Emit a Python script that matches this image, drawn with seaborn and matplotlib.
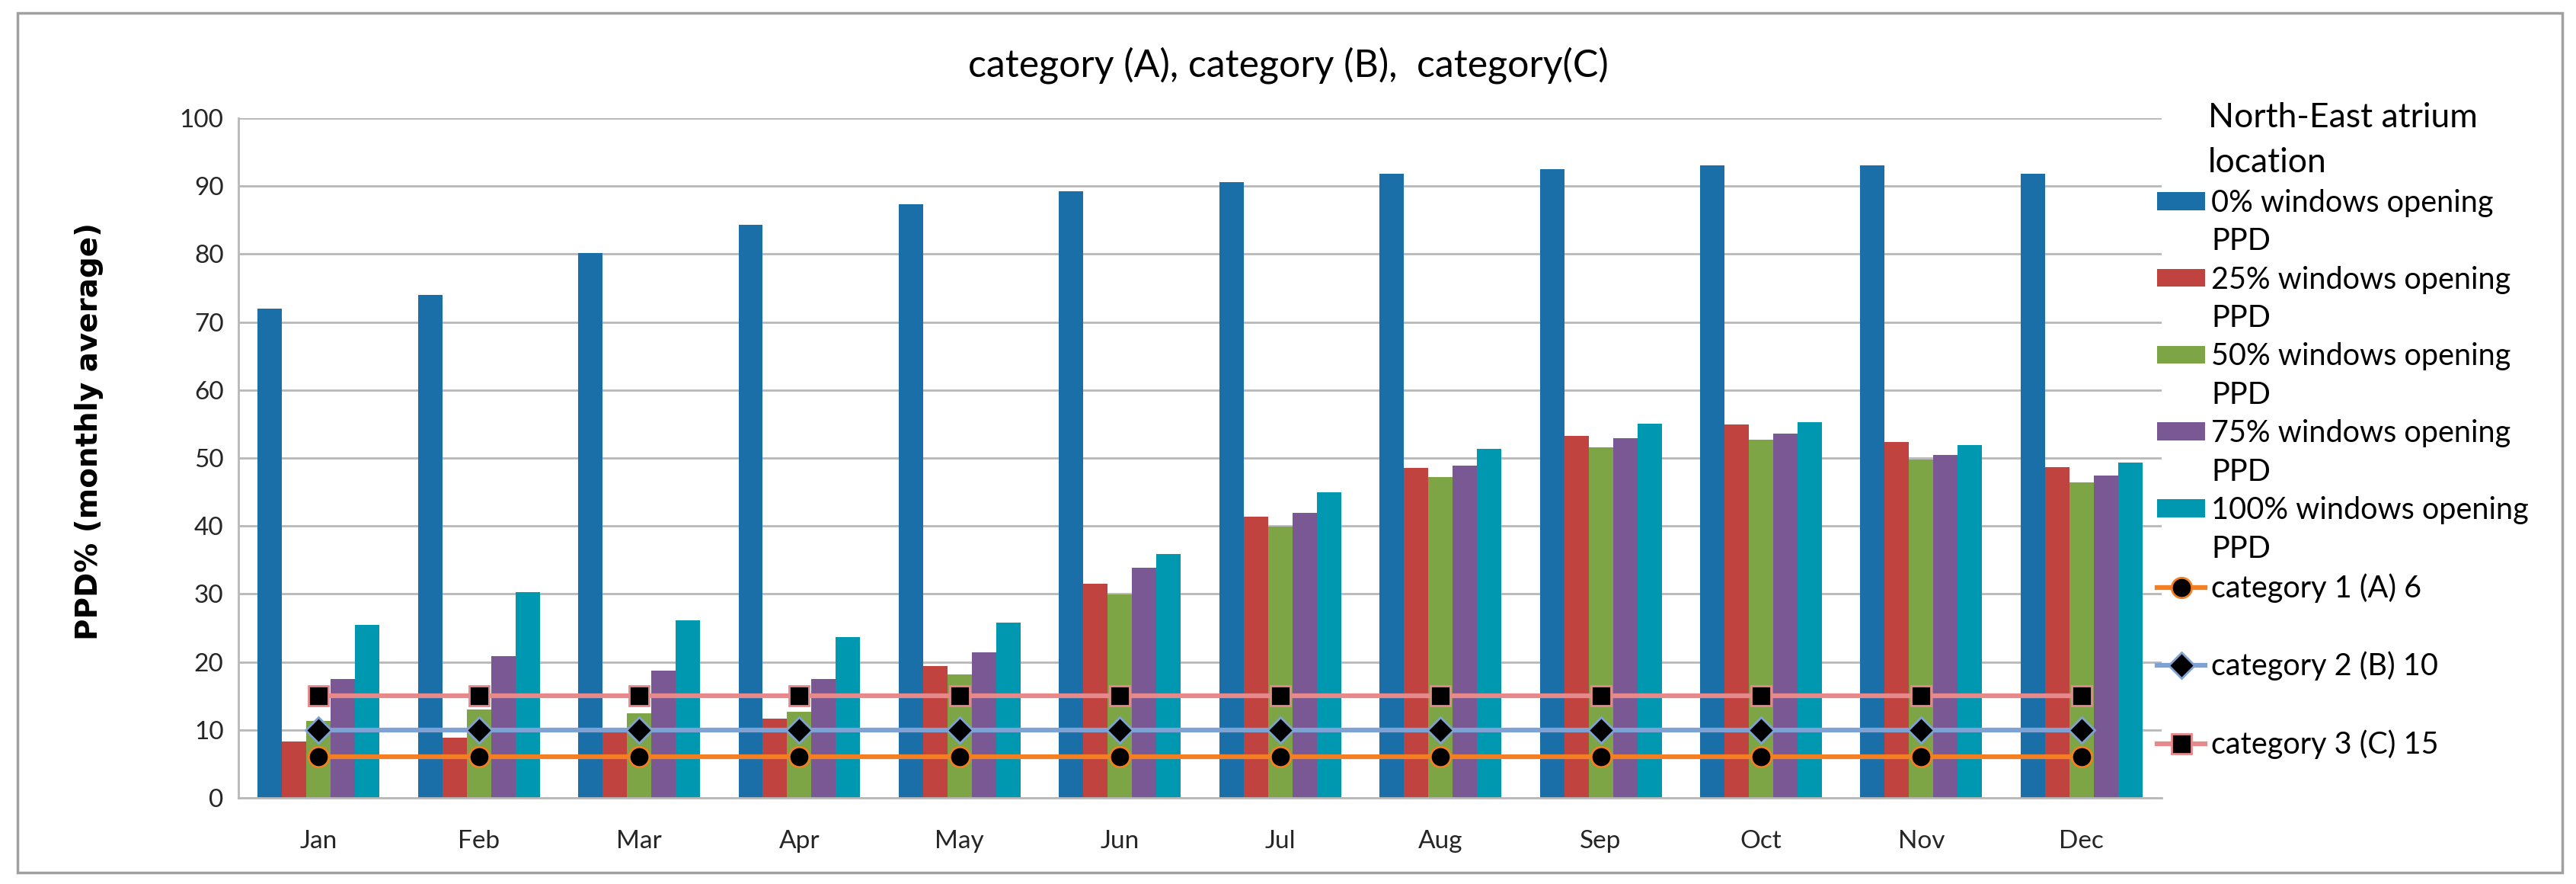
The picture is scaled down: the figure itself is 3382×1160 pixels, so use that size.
import pandas as pd
import seaborn as sns
import matplotlib.pyplot as plt
from matplotlib.patches import Patch, Rectangle
from matplotlib.lines import Line2D

# Chart data
months = ["Jan", "Feb", "Mar", "Apr", "May", "Jun", "Jul", "Aug", "Sep", "Oct", "Nov", "Dec"]
series_names = [
    "0% windows opening PPD",
    "25% windows opening PPD",
    "50% windows opening PPD",
    "75% windows opening PPD",
    "100% windows opening PPD",
]
open_0 = [72.0, 74.0, 80.2, 84.3, 87.3, 89.2, 90.6, 91.8, 92.5, 93.1, 93.1, 91.8]
open_25 = [8.3, 8.9, 9.7, 11.7, 19.4, 31.5, 41.4, 48.5, 53.2, 54.9, 52.3, 48.7]
open_50 = [11.3, 13.0, 12.4, 12.7, 18.2, 29.9, 39.9, 47.2, 51.6, 52.7, 49.8, 46.4]
open_75 = [17.5, 20.9, 18.7, 17.5, 21.4, 33.9, 41.9, 48.9, 52.9, 53.6, 50.5, 47.4]
open_100 = [25.4, 30.3, 26.1, 23.6, 25.8, 35.9, 44.9, 51.4, 55.1, 55.3, 51.9, 49.3]

category_names = ["category 1 (A) 6", "category 2 (B) 10", "category 3 (C) 15"]
cat_a = [6, 6, 6, 6, 6, 6, 6, 6, 6, 6, 6, 6]
cat_b = [10, 10, 10, 10, 10, 10, 10, 10, 10, 10, 10, 10]
cat_c = [15, 15, 15, 15, 15, 15, 15, 15, 15, 15, 15, 15]

bar_colors = ["#1B6FA9", "#C1433F", "#7EA545", "#7A5894", "#0098B1"]
line_colors = ["#F47E22", "#7FA2D4", "#E5898B"]
line_markers = ["o", "D", "s"]

# Long-form table for seaborn
values = [open_0, open_25, open_50, open_75, open_100]
df = pd.DataFrame({
    "month": months * len(series_names),
    "series": [s for s in series_names for _ in months],
    "value": [v for vals in values for v in vals],
})

W, H = 3382, 1160
fig = plt.figure(figsize=(W / 100, H / 100), dpi=100)
ax = fig.add_axes([313 / W, 1 - 1047 / H, (2838 - 313) / W, (1047 - 155) / H])

sns.barplot(
    data=df, x="month", y="value", hue="series",
    palette=bar_colors, saturation=1, width=0.76,
    errorbar=None, legend=False, ax=ax, zorder=2,
)

# Comfort category limits as lines with markers
def marker_size(marker):
    return 17 if marker == "D" else 19

for vals, color, marker in zip([cat_a, cat_b, cat_c], line_colors, line_markers):
    sns.pointplot(
        x=months, y=vals, color=color, markers=marker, errorbar=None,
        linewidth=4.5, markersize=marker_size(marker), markerfacecolor="black",
        markeredgecolor=color, markeredgewidth=2, ax=ax, zorder=4,
    )

ax.set_xlim(-0.5, 11.5)
ax.set_ylim(0, 100)
ax.set_yticks(range(0, 101, 10))
ax.set_xlabel("")
ax.set_ylabel("")
ax.yaxis.grid(True, color="#B8B8B8", linewidth=2)
ax.set_axisbelow(True)
for side in ["top", "right"]:
    ax.spines[side].set_visible(False)
for side in ["left", "bottom"]:
    ax.spines[side].set_color("#B8B8B8")
    ax.spines[side].set_linewidth(2)
ax.tick_params(axis="y", length=0, pad=14, labelsize=24, labelcolor="#262626")
ax.tick_params(axis="x", length=0, pad=30, labelsize=24, labelcolor="#262626")
for lab in ax.get_xticklabels() + ax.get_yticklabels():
    lab.set_family("Lato")

# Titles
fig.text(0.5, 1 - 86 / H, "category (A), category (B),  category(C)",
         ha="center", va="center", fontsize=36, family="Lato")
fig.text(117 / W, 1 - 566 / H, "PPD% (monthly average)", rotation=90,
         ha="center", va="center", fontsize=28, fontweight="bold", family="DejaVu Sans")

# Legend, built entry by entry so the wrapped "PPD" sits on its own row
blank = Patch(facecolor="none", edgecolor="none")
handles, labels = [], []
for name, color in zip(series_names, bar_colors):
    handles += [Patch(facecolor=color, edgecolor="none"), blank]
    labels += [name.replace(" PPD", ""), "PPD"]
for i, (name, color, marker) in enumerate(zip(category_names, line_colors, line_markers)):
    handles.append(Line2D([], [], color=color, linewidth=4.5, marker=marker,
                          markerfacecolor="black", markeredgecolor=color,
                          markersize=marker_size(marker), markeredgewidth=2))
    labels.append(name)
    if i < len(category_names) - 1:
        handles.append(blank)
        labels.append("")

leg = fig.legend(
    handles, labels, loc="upper left", bbox_to_anchor=(2832 / W, 1 - 134 / H),
    frameon=False, borderpad=0, borderaxespad=0,
    prop={"family": "Lato", "size": 28.5},
    title="North-East atrium\nlocation",
    title_fontproperties={"family": "Lato", "size": 32},
    handlelength=1.6, handleheight=0.55, handletextpad=0.2, labelspacing=0.34,
)
leg.get_title().set_linespacing(1.55)

# Light grey frame around the whole chart
fig.patches.append(Rectangle((23 / W, 1 - 1145 / H), (3364 - 23) / W, (1145 - 17) / H,
                             transform=fig.transFigure, fill=False,
                             edgecolor="#A0A0A0", linewidth=2.5))

fig.savefig("out.png", dpi=100)
plt.close(fig)
